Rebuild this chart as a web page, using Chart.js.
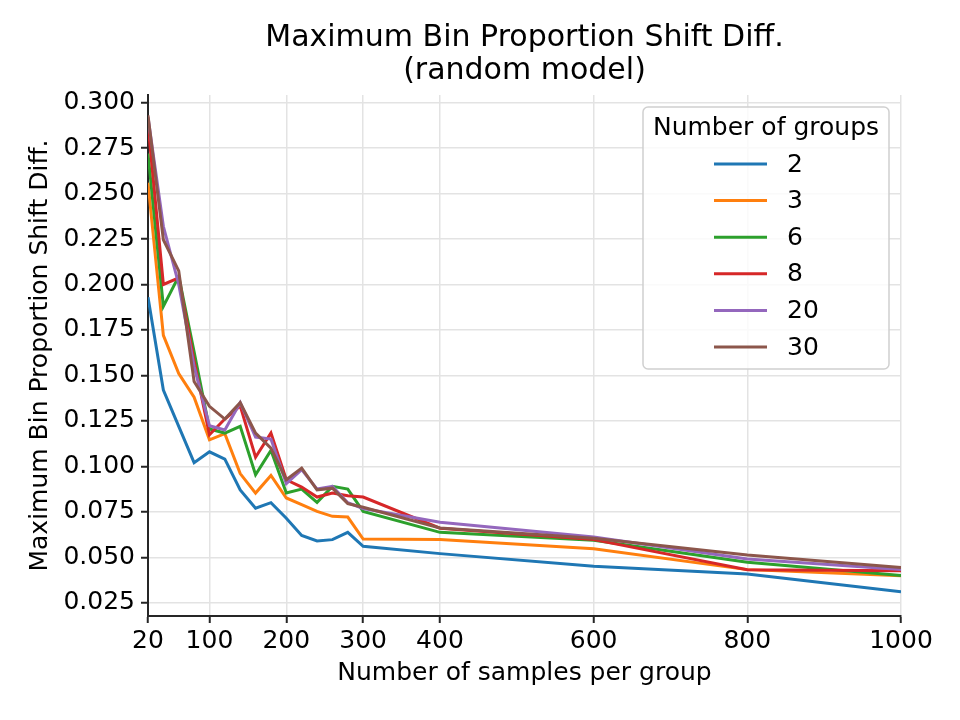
<!DOCTYPE html>
<html>
<head>
<meta charset="utf-8">
<script src="https://cdn.jsdelivr.net/npm/chart.js@4.4.1/dist/chart.umd.min.js"></script>
<style>
html, body { margin: 0; padding: 0; background: #fff; }
#wrap { width: 960px; height: 720px; }
</style>
</head>
<body>
<div id="wrap"><canvas id="chart" width="960" height="720"></canvas></div>
<script>
const titleLines = ['Maximum Bin Proportion Shift Diff.', '(random model)'];
const xTitle = 'Number of samples per group';
const yTitle = 'Maximum Bin Proportion Shift Diff.';
const legendTitle = 'Number of groups';

const samples = [20, 40, 60, 80, 100, 120, 140, 160, 180, 200, 220, 240, 260, 280, 300, 400, 600, 800, 1000];
const xTicks = [20, 100, 200, 300, 400, 600, 800, 1000];
const yTicks = [0.025, 0.05, 0.075, 0.1, 0.125, 0.15, 0.175, 0.2, 0.225, 0.25, 0.275, 0.3];

const groupLabels = ['2', '3', '6', '8', '20', '30'];
const colors = ['#1f77b4', '#ff7f0e', '#2ca02c', '#d62728', '#9467bd', '#8c564b'];

const groups2  = [0.193, 0.142, 0.122, 0.102, 0.108, 0.104, 0.087, 0.077, 0.080, 0.0715, 0.062, 0.059, 0.0597, 0.0637, 0.056, 0.052, 0.045, 0.0408, 0.031];
const groups3  = [0.256, 0.172, 0.151, 0.138, 0.1146, 0.118, 0.096, 0.0853, 0.095, 0.0826, 0.0789, 0.0752, 0.0725, 0.0721, 0.060, 0.0597, 0.0547, 0.0432, 0.0399];
const groups6  = [0.272, 0.188, 0.2045, 0.163, 0.1205, 0.1183, 0.122, 0.0954, 0.1088, 0.0853, 0.0875, 0.0802, 0.089, 0.0875, 0.0752, 0.0637, 0.0593, 0.0472, 0.0399];
const groups8  = [0.288, 0.200, 0.2037, 0.158, 0.1174, 0.126, 0.1333, 0.105, 0.1183, 0.0926, 0.0886, 0.0831, 0.0853, 0.0838, 0.0831, 0.066, 0.0597, 0.0432, 0.0426];
const groups20 = [0.292, 0.232, 0.200, 0.155, 0.1223, 0.120, 0.135, 0.1161, 0.115, 0.0905, 0.0982, 0.0875, 0.089, 0.080, 0.0768, 0.0692, 0.0611, 0.049, 0.0432];
const groups30 = [0.293, 0.2246, 0.2075, 0.1467, 0.133, 0.126, 0.135, 0.1183, 0.110, 0.0926, 0.099, 0.0871, 0.088, 0.0795, 0.0775, 0.0661, 0.0604, 0.0512, 0.0444];

const series = [groups2, groups3, groups6, groups8, groups20, groups30];

const FONT = '"DejaVu Sans", sans-serif';
const AXIS_COLOR = '#262626';
const GRID_COLOR = '#e3e3e3';

// title centred over the plot area, like matplotlib does
const titlePlugin = {
    id: 'axesTitle',
    afterDraw(chart) {
        const { ctx, chartArea } = chart;
        const cx = (chartArea.left + chartArea.right) / 2;
        ctx.save();
        ctx.fillStyle = '#000';
        ctx.font = `30px ${FONT}`;
        ctx.textAlign = 'center';
        ctx.textBaseline = 'middle';
        titleLines.forEach((t, i) => ctx.fillText(t, cx, 38 + i * 33));
        ctx.restore();
    }
};

// legend box in the upper right of the axes
const legendPlugin = {
    id: 'boxLegend',
    afterDatasetsDraw(chart) {
        const { ctx, chartArea } = chart;
        const w = 246, h = 262;
        const x = chartArea.right - 12 - w;
        const y = chartArea.top + 12;
        ctx.save();
        ctx.beginPath();
        ctx.roundRect(x, y, w, h, 5);
        ctx.fillStyle = 'rgba(255,255,255,0.8)';
        ctx.fill();
        ctx.strokeStyle = '#d0d0d0';
        ctx.lineWidth = 1.5;
        ctx.stroke();

        ctx.fillStyle = '#000';
        ctx.font = `25px ${FONT}`;
        ctx.textAlign = 'center';
        ctx.textBaseline = 'middle';
        ctx.fillText(legendTitle, x + w / 2, y + 21);

        ctx.textAlign = 'left';
        chart.data.datasets.forEach((ds, i) => {
            const ly = y + 57 + i * 36.6;
            ctx.beginPath();
            ctx.moveTo(x + 71, ly);
            ctx.lineTo(x + 124, ly);
            ctx.strokeStyle = ds.borderColor;
            ctx.lineWidth = 3;
            ctx.stroke();
            ctx.fillStyle = '#000';
            ctx.fillText(ds.label, x + 144, ly + 1);
        });
        ctx.restore();
    }
};

const datasets = series.map((vals, i) => ({
    label: groupLabels[i],
    data: samples.map((s, j) => ({ x: s, y: vals[j] })),
    borderColor: colors[i],
    backgroundColor: colors[i],
    borderWidth: 3,
    pointRadius: 0,
    tension: 0,
    fill: false,
    order: series.length - 1 - i
}));

new Chart(document.getElementById('chart'), {
    type: 'line',
    data: { datasets },
    options: {
        responsive: false,
        devicePixelRatio: 1,
        animation: false,
        layout: { padding: { left: 0, right: 59, top: 95, bottom: 0 } },
        plugins: {
            legend: { display: false },
            title: { display: false },
            tooltip: { enabled: false }
        },
        scales: {
            x: {
                type: 'linear',
                min: 20,
                max: 1000,
                afterBuildTicks: (scale) => { scale.ticks = xTicks.map(v => ({ value: v })); },
                afterFit: (scale) => { scale.height = 104; },
                ticks: {
                    color: '#000',
                    font: { family: FONT, size: 25 },
                    padding: 3,
                    maxRotation: 0,
                    autoSkip: false,
                    callback: (v) => String(v)
                },
                grid: {
                    color: GRID_COLOR,
                    lineWidth: 1.5,
                    tickColor: AXIS_COLOR,
                    tickWidth: 2,
                    tickLength: 7
                },
                border: { color: AXIS_COLOR, width: 2 },
                title: {
                    display: true,
                    text: xTitle,
                    color: '#000',
                    font: { family: FONT, size: 25 },
                    padding: { top: 0, bottom: 32 }
                }
            },
            y: {
                min: 0.0177,
                max: 0.3042,
                afterBuildTicks: (scale) => { scale.ticks = yTicks.map(v => ({ value: v })); },
                afterFit: (scale) => { scale.width = 148; },
                ticks: {
                    color: '#000',
                    font: { family: FONT, size: 25 },
                    padding: 6,
                    autoSkip: false,
                    callback: (v) => v.toFixed(3)
                },
                grid: {
                    color: GRID_COLOR,
                    lineWidth: 1.5,
                    tickColor: AXIS_COLOR,
                    tickWidth: 2,
                    tickLength: 7
                },
                border: { color: AXIS_COLOR, width: 2 },
                title: {
                    display: true,
                    text: yTitle,
                    color: '#000',
                    font: { family: FONT, size: 25 },
                    padding: { top: 25, bottom: 0 }
                }
            }
        }
    },
    plugins: [titlePlugin, legendPlugin]
});
</script>
</body>
</html>
